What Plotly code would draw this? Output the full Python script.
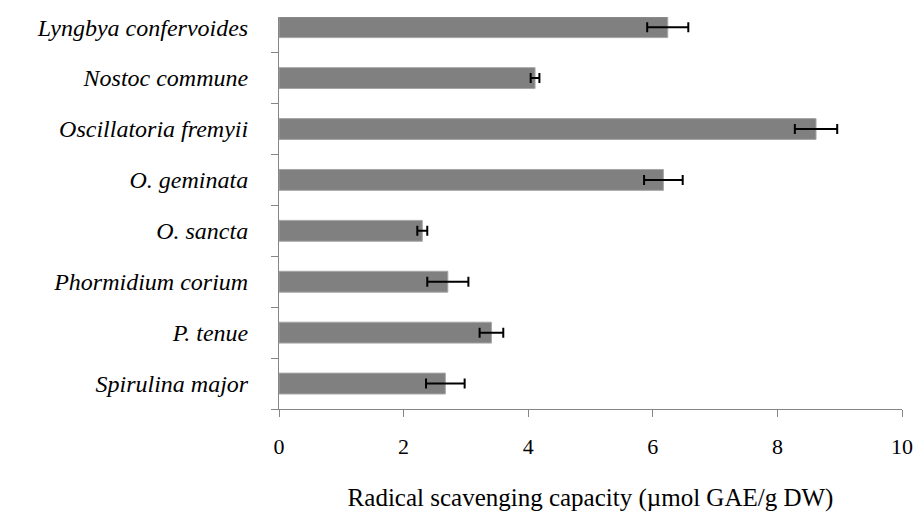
import plotly.graph_objects as go

species = ["Spirulina major", "P. tenue", "Phormidium corium", "O. sancta",
           "O. geminata", "Oscillatoria fremyii", "Nostoc commune", "Lyngbya confervoides"]
values = [2.67, 3.41, 2.71, 2.30, 6.17, 8.62, 4.11, 6.24]
errors = [0.31, 0.19, 0.33, 0.08, 0.31, 0.34, 0.07, 0.33]
x_ticks = [0, 2, 4, 6, 8, 10]
x_tick_labels = ["0", "2", "4", "6", "8", "10"]
x_title = "Radical scavenging capacity (\u00b5mol GAE/g DW)"

SERIF = "Liberation Serif"

fig = go.Figure(go.Bar(
    y=species, x=values, orientation="h",
    marker=dict(color="#808080", line=dict(color="#a6a6a6", width=1)),
    error_x=dict(type="data", array=errors, visible=True, color="black",
                 thickness=2, width=5),
    width=0.41,
))

fig.update_layout(
    width=917, height=515,
    margin=dict(l=279, r=15, t=17, b=106),
    paper_bgcolor="white", plot_bgcolor="white",
    showlegend=False,
    font=dict(family=SERIF, color="black", size=22),
)
fig.update_xaxes(
    range=[0, 10], tickmode="array", tickvals=x_ticks, ticktext=x_tick_labels,
    ticks="outside", ticklen=7, tickcolor="#868686",
    showline=True, linecolor="#868686", linewidth=1,
    showgrid=False, zeroline=False, automargin=False, ticklabelstandoff=11,
    tickfont=dict(size=22, family=SERIF, color="black"),
    title=dict(text=x_title, font=dict(size=25, family=SERIF, color="black"), standoff=30),
)
fig.update_yaxes(
    type="category", categoryorder="array", categoryarray=species,
    range=[-0.5, 7.2], tickson="boundaries", ticks="outside", ticklen=7,
    tickcolor="#868686", showline=True, linecolor="#868686", linewidth=1,
    showgrid=False, zeroline=False, automargin=False, ticklabelstandoff=25,
    tickfont=dict(size=24, family=SERIF, style="italic", color="black"),
)

fig.write_html(
    "out.html",
    config={"displayModeBar": False},
    post_script="document.body.style.margin='0';document.body.style.overflow='hidden';",
)
